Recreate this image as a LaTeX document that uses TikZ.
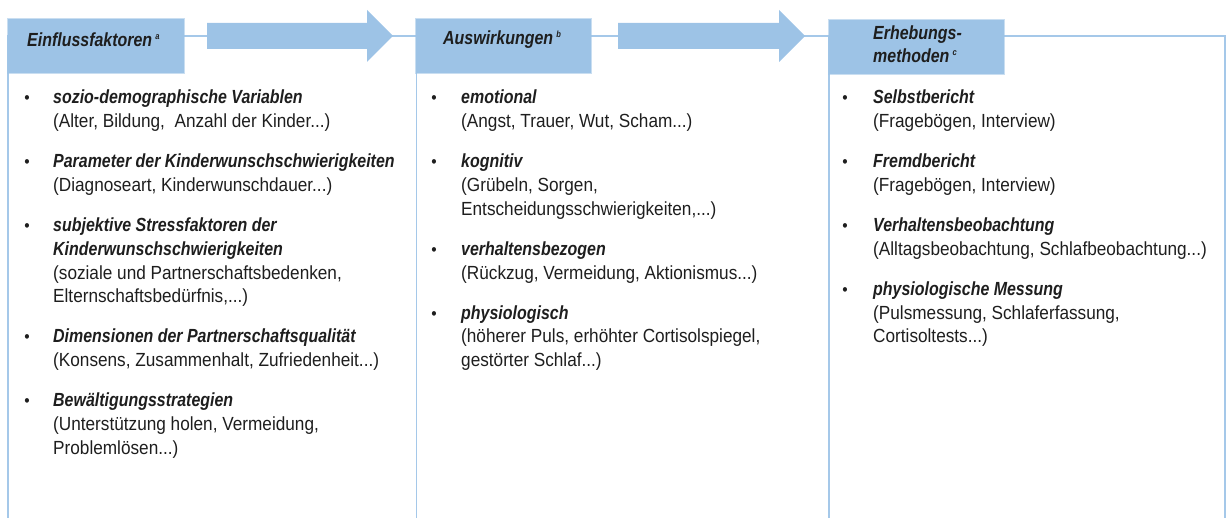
\documentclass[tikz,border=0pt]{standalone}
\usepackage{fontspec}
\setmainfont{Liberation Sans}[FakeStretch=0.905]
\newfontfamily\hdfont{Liberation Sans}[FakeStretch=0.84]
\definecolor{hdr}{RGB}{157,195,230}
\definecolor{framec}{RGB}{165,200,233}
\definecolor{txtc}{RGB}{30,30,30}
\newcommand{\supx}[1]{\raisebox{7pt}{\fontsize{9}{9}\selectfont\itshape #1}}
\begin{document}
\begin{tikzpicture}[x=1pt,y=-1pt,
  framel/.style={draw=framec, line width=1.1pt},
  hdrbox/.style={fill=hdr, draw=hdr, draw opacity=0.55, line width=2pt, inner sep=0pt, anchor=north west},
  blockarrow/.style={fill=hdr},
  txt/.style={inner sep=0pt, anchor=base west, text=txtc, font=\fontsize{19}{23.8}\selectfont},
  bld/.style={txt, font=\fontsize{19}{23.8}\selectfont\hdfont\bfseries\itshape},
  bul/.style={inner sep=0pt, anchor=base, text=txtc, font=\fontsize{17}{23.8}\selectfont}
]
\useasboundingbox (0,0) rectangle (1227,518);
% column frames
\draw[framel] (8,520) -- (8,36) -- (416.5,36) -- (416.5,520);
\draw[framel] (416.5,520) -- (416.5,36) -- (829,36) -- (829,520);
\draw[framel] (829,520) -- (829,36) -- (1225,36) -- (1225,520);
% block arrows
\path[blockarrow] (207,23) -- (367,23) -- (367,10) -- (393,36) -- (367,62) -- (367,49) -- (207,49) -- cycle;
\path[blockarrow] (618,23) -- (779,23) -- (779,10) -- (805,36) -- (779,62) -- (779,49) -- (618,49) -- cycle;
% headers
\node[hdrbox, minimum width=176pt, minimum height=54pt] (h1) at (7,18) {};
\node[hdrbox, minimum width=175pt, minimum height=54pt] (h2) at (415,18) {};
\node[hdrbox, minimum width=175pt, minimum height=54pt] (h3) at (828,19) {};
\node[bld] (h1t) at (27,47) {Einflussfaktoren\,\supx{a}};
\node[bld] (h2t) at (443,45) {Auswirkungen\,\supx{b}};
\node[bld] (h3t) at (873,40) {Erhebungs-};
\node[bld] (h3u) at (873,63) {methoden\,\supx{c}};
% column 1
\node[bul] (b11) at (27,104) {•};
\node[bld] (t11) at (53,104) {sozio-demographische Variablen};
\node[txt] (t12) at (53,127.8) {(Alter, Bildung,\ \ Anzahl der Kinder...)};
\node[bul] (b12) at (27,167.8) {•};
\node[bld] (t13) at (53,167.8) {Parameter der Kinderwunschschwierigkeiten};
\node[txt] (t14) at (53,191.6) {(Diagnoseart, Kinderwunschdauer...)};
\node[bul] (b13) at (27,231.6) {•};
\node[bld] (t15) at (53,231.6) {subjektive Stressfaktoren der};
\node[bld] (t16) at (53,255.4) {Kinderwunschschwierigkeiten};
\node[txt] (t17) at (53,279.2) {(soziale und Partnerschaftsbedenken,};
\node[txt] (t18) at (53,303) {Elternschaftsbedürfnis,...)};
\node[bul] (b14) at (27,343) {•};
\node[bld] (t19) at (53,343) {Dimensionen der Partnerschaftsqualität};
\node[txt] (t110) at (53,366.8) {(Konsens, Zusammenhalt, Zufriedenheit...)};
\node[bul] (b15) at (27,406.8) {•};
\node[bld] (t111) at (53,406.8) {Bewältigungsstrategien};
\node[txt] (t112) at (53,430.6) {(Unterstützung holen, Vermeidung,};
\node[txt] (t113) at (53,454.4) {Problemlösen...)};
% column 2
\node[bul] (b21) at (434,104) {•};
\node[bld] (t21) at (461,104) {emotional};
\node[txt] (t22) at (461,127.8) {(Angst, Trauer, Wut, Scham...)};
\node[bul] (b22) at (434,167.8) {•};
\node[bld] (t23) at (461,167.8) {kognitiv};
\node[txt] (t24) at (461,191.6) {(Grübeln, Sorgen,};
\node[txt] (t25) at (461,215.4) {Entscheidungsschwierigkeiten,...)};
\node[bul] (b23) at (434,255.4) {•};
\node[bld] (t26) at (461,255.4) {verhaltensbezogen};
\node[txt] (t27) at (461,279.2) {(Rückzug, Vermeidung, Aktionismus...)};
\node[bul] (b24) at (434,319.2) {•};
\node[bld] (t28) at (461,319.2) {physiologisch};
\node[txt] (t29) at (461,343) {(höherer Puls, erhöhter Cortisolspiegel,};
\node[txt] (t210) at (461,366.8) {gestörter Schlaf...)};
% column 3
\node[bul] (b31) at (845,104) {•};
\node[bld] (t31) at (873,104) {Selbstbericht};
\node[txt] (t32) at (873,127.8) {(Fragebögen, Interview)};
\node[bul] (b32) at (845,167.8) {•};
\node[bld] (t33) at (873,167.8) {Fremdbericht};
\node[txt] (t34) at (873,191.6) {(Fragebögen, Interview)};
\node[bul] (b33) at (845,231.6) {•};
\node[bld] (t35) at (873,231.6) {Verhaltensbeobachtung};
\node[txt] (t36) at (873,255.4) {(Alltagsbeobachtung, Schlafbeobachtung...)};
\node[bul] (b34) at (845,295.4) {•};
\node[bld] (t37) at (873,295.4) {physiologische Messung};
\node[txt] (t38) at (873,319.2) {(Pulsmessung, Schlaferfassung,};
\node[txt] (t39) at (873,343) {Cortisoltests...)};
\end{tikzpicture}
\end{document}
